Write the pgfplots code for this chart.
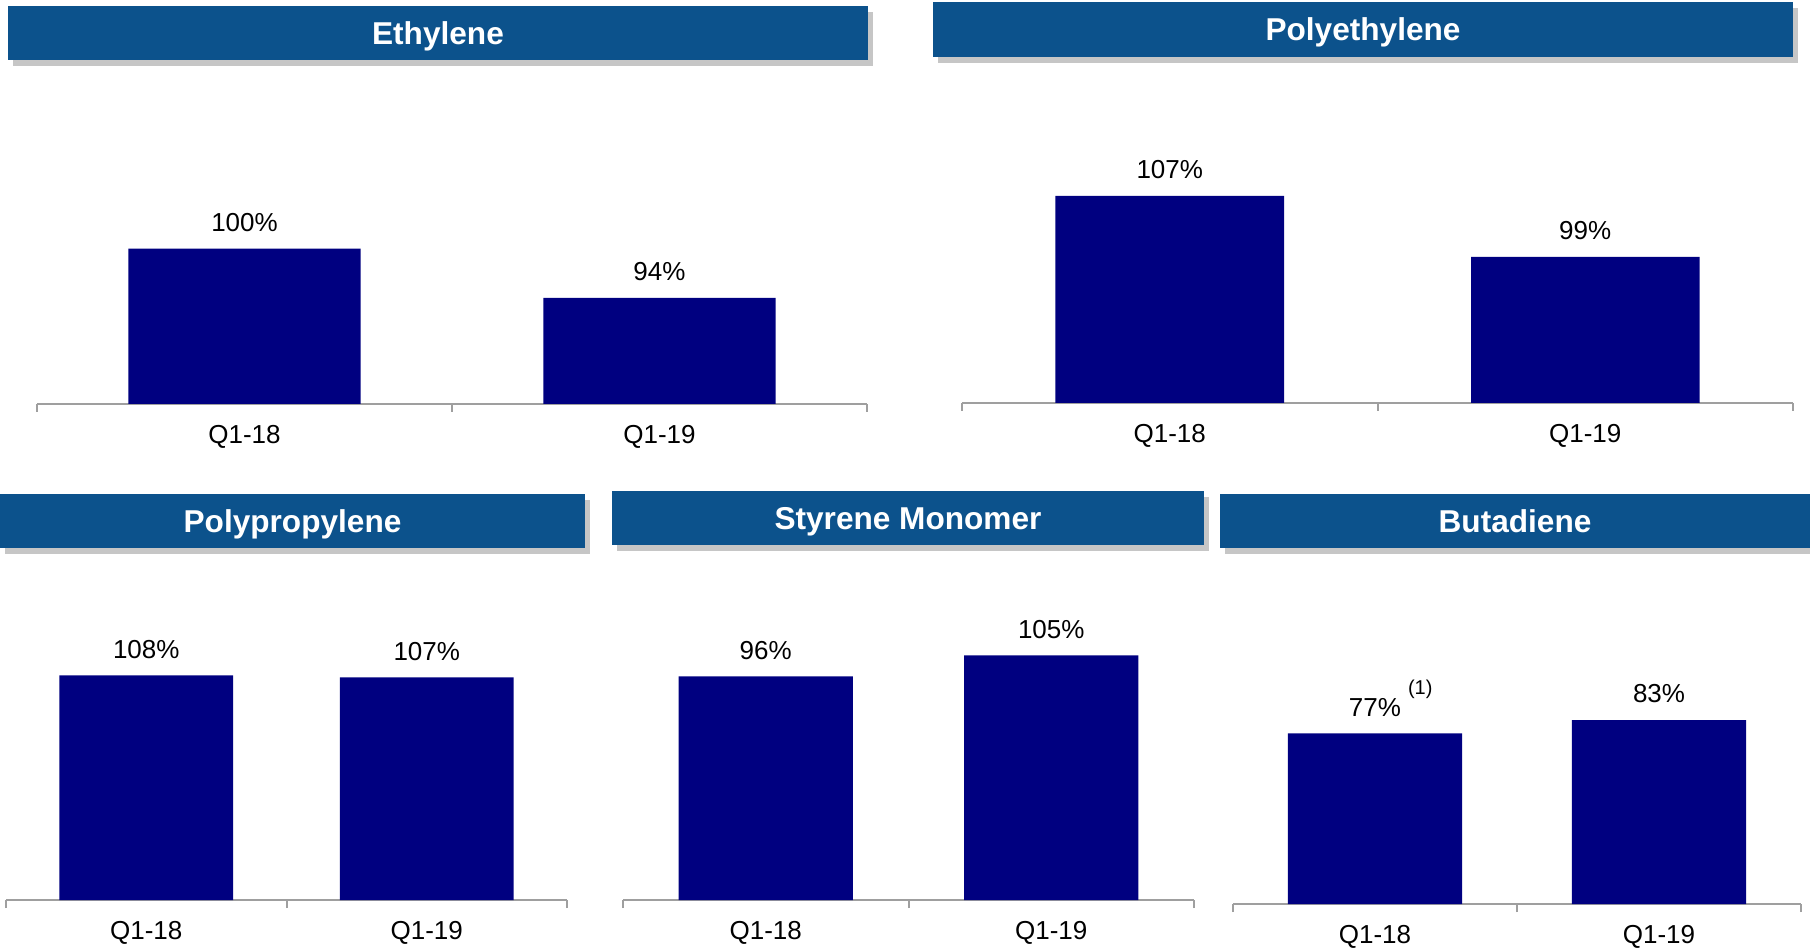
\documentclass[border=0pt]{standalone}
\usepackage{fontspec}
\setmainfont{Liberation Sans}
\usepackage{pgfplots}
\pgfplotsset{compat=1.18}
\usetikzlibrary{shadows}
\definecolor{titleblue}{RGB}{12,82,140}
\definecolor{barnavy}{RGB}{0,0,128}
\newcommand{\lblfont}{\fontsize{13}{15}\selectfont}
\pgfplotsset{panel/.style={
  scale only axis, ybar, anchor=south west,
  xmin=-0.5, xmax=1.5, ymax=110, enlarge y limits=false,
  axis x line*=bottom, axis y line=none,
  x axis line style={gray!75, line width=1pt},
  xtick={-0.5,0.5,1.5}, xticklabels={},
  tick align=outside, major tick length=4pt,
  tick style={gray!75, line width=1pt},
  extra x ticks={0,1}, extra x tick labels={Q1-18,Q1-19},
  extra x tick style={major tick length=0pt},
  ticklabel style={font=\lblfont, inner sep=0pt, anchor=north, yshift=-10.6pt, text=black},
  nodes near coords, point meta=explicit symbolic,
  every node near coord/.append style={font=\lblfont, anchor=south, inner sep=0pt, yshift=8.3pt, text=black},
}}
\tikzset{titlebar/.style={fill=titleblue, draw=none,
  drop shadow={shadow xshift=2.5pt, shadow yshift=-3pt, opacity=0.45, fill=gray}},
  ttl/.style={anchor=base, inner sep=0pt}}
\newcommand{\titletext}{\bfseries\fontsize{15.8}{18}\selectfont\color{white}}
\begin{document}
\begin{tikzpicture}
\useasboundingbox (0pt,0pt) rectangle (905pt,474.5pt);
% title bars
\fill[titlebar] (4pt,444.5pt) rectangle (434pt,471.5pt);
\node[ttl] at (219pt,452.3pt) {\titletext Ethylene};
\fill[titlebar] (466.5pt,446pt) rectangle (896.5pt,473.5pt);
\node[ttl] at (681.5pt,454pt) {\titletext Polyethylene};
\fill[titlebar] (0pt,200.5pt) rectangle (292.5pt,227.5pt);
\node[ttl] at (146.25pt,208.3pt) {\titletext Polypropylene};
\fill[titlebar] (306pt,202pt) rectangle (602pt,229pt);
\node[ttl] at (454pt,209.8pt) {\titletext Styrene Monomer};
\fill[titlebar] (610pt,200.5pt) rectangle (910pt,227.5pt);
\node[ttl] at (757.5pt,208.3pt) {\titletext Butadiene};

% Ethylene
\begin{axis}[panel, at={(18.5pt,272.5pt)}, width=415pt, height=118.5pt,
  ymin=81, bar width=0.56]
\addplot[fill=barnavy, draw=none] coordinates {(0,100) [100\%] (1,94) [94\%]};
\end{axis}

% Polyethylene
\begin{axis}[panel, at={(481pt,273pt)}, width=415.5pt, height=114.95pt,
  ymin=79.85, bar width=0.55]
\addplot[fill=barnavy, draw=none] coordinates {(0,107) [107\%] (1,99) [99\%]};
\end{axis}

% Polypropylene
\begin{axis}[panel, at={(3pt,24.5pt)}, width=280.5pt, height=114.4pt,
  ymin=0, bar width=0.62]
\addplot[fill=barnavy, draw=none] coordinates {(0,108) [108\%] (1,107) [107\%]};
\end{axis}

% Styrene Monomer
\begin{axis}[panel, at={(311.5pt,24.5pt)}, width=285.5pt, height=128.15pt,
  ymin=0, bar width=0.61]
\addplot[fill=barnavy, draw=none] coordinates {(0,96) [96\%] (1,105) [105\%]};
\end{axis}

% Butadiene
\begin{axis}[panel, at={(616.5pt,22.5pt)}, width=284pt, height=121.8pt,
  ymin=0, bar width=0.613]
\addplot[fill=barnavy, draw=none] coordinates {(0,77) [77\%\rlap{\hspace{3.5pt}\raisebox{11pt}{\fontsize{10}{12}\selectfont(1)}}] (1,83) [83\%]};
\end{axis}
\end{tikzpicture}
\end{document}
